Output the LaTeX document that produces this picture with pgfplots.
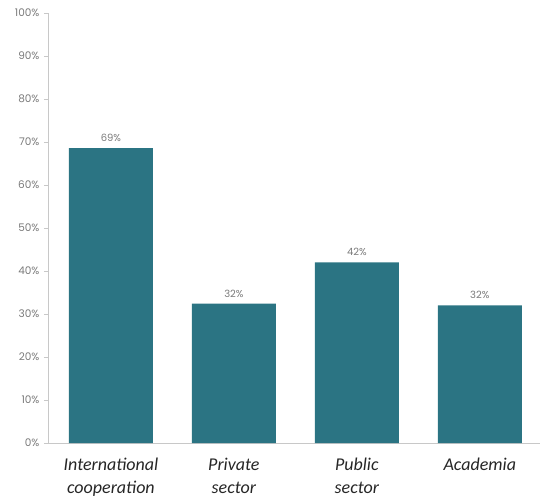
\documentclass[border=0pt]{standalone}
\usepackage{pgfplots}
\pgfplotsset{compat=1.18}
\usepackage{fontspec}
\setmainfont{Carlito}
\newfontfamily\tickfont{Poppins}
\definecolor{barteal}{HTML}{2B7483}
\definecolor{axgray}{HTML}{C8C8C8}
\definecolor{txtgray}{HTML}{7A7A7A}
\begin{document}
\begin{tikzpicture}
\begin{axis}[
  scale only axis,
  width=492pt, height=430pt,
  xmin=-0.512, xmax=3.49,
  ymin=0, ymax=100,
  ytick={0,10,...,100},
  yticklabel={\pgfmathprintnumber{\tick}\%},
  /pgf/number format/assume math mode=true,
  yticklabel style={font=\tickfont\fontsize{10.5}{12}\selectfont, text=txtgray, xshift=-1pt},
  xtick=data,
  xticklabels={{International\\cooperation},{Private\\sector},{Public\\sector},{Academia}},
  xticklabel style={font=\itshape\fontsize{18}{23}\selectfont, align=center, text=black!85, inner sep=0pt, yshift=-11pt},
  major tick length=4pt,
  ytick pos=left, tick align=outside,
  ytick style={axgray, line width=0.8pt},
  xtick style={draw=none},
  axis x line*=bottom,
  axis y line*=left,
  axis line style={axgray, line width=0.8pt},
  every outer x axis line/.append style={-},
  every outer y axis line/.append style={-},
  ybar, bar width=84pt,
  nodes near coords,
  point meta=explicit symbolic,
  nodes near coords style={font=\tickfont\fontsize{10}{12}\selectfont, text=txtgray, yshift=3pt},
  clip=false,
]
\addplot[fill=barteal, draw=none] coordinates {(0,68.6)[69\%] (1,32.4)[32\%] (2,42.0)[42\%] (3,32.0)[32\%]};
\end{axis}
\pgfresetboundingbox
\path ([xshift=-48pt,yshift=-58pt]current axis.south west) rectangle ([yshift=13pt]current axis.north east);
\end{tikzpicture}
\end{document}
